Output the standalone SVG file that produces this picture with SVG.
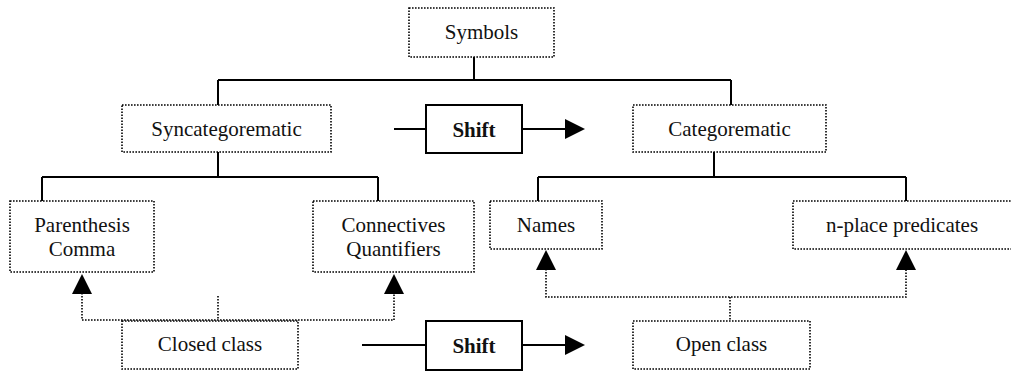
<svg xmlns="http://www.w3.org/2000/svg" width="1011" height="373" viewBox="0 0 1011 373">
<defs>
<style>
.box{fill:#fff;stroke:#000;stroke-width:1.6;stroke-dasharray:1.6 1.4}
.sbox{fill:#fff;stroke:#000;stroke-width:2}
.ln{fill:none;stroke:#000;stroke-width:2}
.dl{fill:none;stroke:#000;stroke-width:1.6;stroke-dasharray:1.6 1.4}
text{font-family:'Times New Roman','Liberation Serif',Tinos,serif;font-size:21px;fill:#111;text-anchor:middle}
</style>
</defs>
<rect width="1011" height="373" fill="#fff"/>
<g id="connectors">
<path class="ln" d="M474 57V80M218 80H731M218 80V105M731 80V105"/>
<path class="ln" d="M218 152V177M42 177H378M42 177V201M378 177V201"/>
<path class="ln" d="M714 152V177M538 177H906M538 177V201M906 177V201"/>
<path class="ln" d="M394 129H426M522 129H566"/>
<polygon points="565,119 585,129 565,139" fill="#000"/>
<path class="ln" d="M362 345H426M522 345H566"/>
<polygon points="565,335 585,345 565,355" fill="#000"/>
<path class="dl" d="M82 293V320H394V293M218 296V320"/>
<polygon points="82,274 72,294 92,294" fill="#000"/>
<polygon points="394,274 384,294 404,294" fill="#000"/>
<path class="dl" d="M546 269V297H906V269M730 297V321"/>
<polygon points="546,250 536,270 556,270" fill="#000"/>
<polygon points="906,250 896,270 916,270" fill="#000"/>
</g>
<g id="symbols"><rect class="box" x="409" y="8" width="145" height="49"/><text x="481.5" y="39">Symbols</text></g>
<g id="syncategorematic"><rect class="box" x="122" y="105" width="209" height="47"/><text x="226.5" y="136">Syncategorematic</text></g>
<g id="shift1"><rect class="sbox" x="426" y="105" width="96" height="48"/><text font-weight="bold" x="474" y="137">Shift</text></g>
<g id="categorematic"><rect class="box" x="633" y="105" width="193" height="47"/><text x="729.5" y="136">Categorematic</text></g>
<g id="parenthesis"><rect class="box" x="10" y="201" width="144" height="71"/><text x="82" y="232">Parenthesis</text><text x="82" y="256">Comma</text></g>
<g id="connectives"><rect class="box" x="313" y="201" width="161" height="71"/><text x="393.5" y="232">Connectives</text><text x="393.5" y="256">Quantifiers</text></g>
<g id="names"><rect class="box" x="490" y="201" width="112" height="48"/><text x="546" y="232">Names</text></g>
<g id="predicates"><rect class="box" x="793" y="201" width="222" height="48"/><text x="902" y="232">n-place predicates</text></g>
<g id="closed"><rect class="box" x="122" y="321" width="176" height="48"/><text x="210" y="351">Closed class</text></g>
<g id="shift2"><rect class="sbox" x="426" y="321" width="96" height="49"/><text font-weight="bold" x="474" y="353">Shift</text></g>
<g id="open"><rect class="box" x="633" y="321" width="177" height="48"/><text x="721.5" y="351">Open class</text></g>
</svg>
